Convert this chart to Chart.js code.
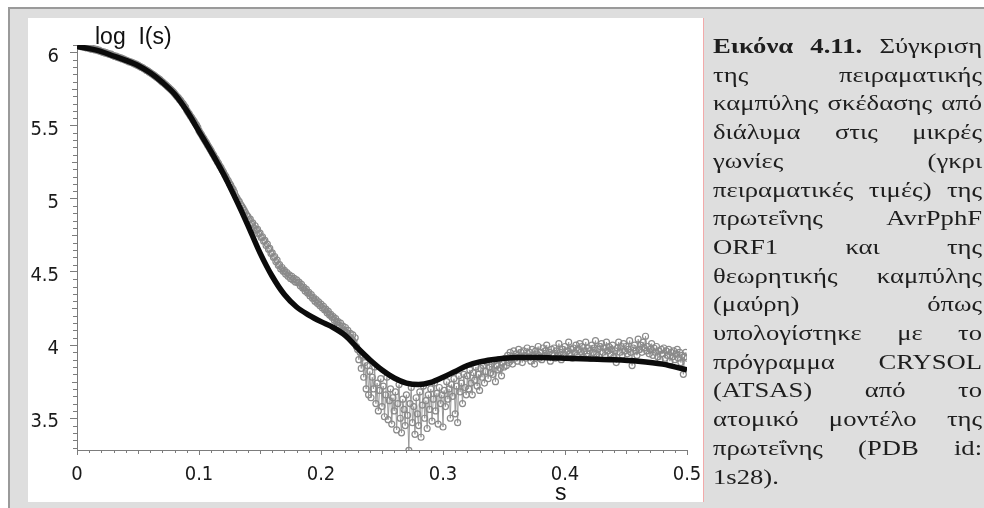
<!DOCTYPE html>
<html>
<head>
<meta charset="utf-8">
<script src="https://cdn.jsdelivr.net/npm/chart.js@4.4.1/dist/chart.umd.min.js"></script>
<style>
  html, body { margin: 0; padding: 0; }
  body { width: 984px; height: 508px; position: relative; overflow: hidden; background: #fff; }
  #frame { position: absolute; left: 8px; top: 7px; right: 0; bottom: 0; background: #dedede;
           border-left: 2px solid #9a9a9a; border-top: 2px solid #9a9a9a; }
  #plotPanel { position: absolute; left: 28px; top: 18px; width: 675px; height: 484px; background: #fff;
               box-shadow: 1px 0 0 #f2aaaa; }
  #chart { position: absolute; left: 0; top: 0; }
  .axis-title { position: absolute; color: #111; font-family: "Liberation Sans", Arial, sans-serif;
                font-size: 23px; line-height: 23px; white-space: pre; }
  #caption { position: absolute; left: 713px; top: 32px; width: 207px; color: #1e1e1e;
             transform: scaleX(1.3); transform-origin: 0 0;
             font-family: "Liberation Serif", "Times New Roman", serif; font-size: 20.5px; line-height: 28.7px; }
  .ln { display: flex; justify-content: space-between; white-space: nowrap; }
  .ln.last { justify-content: flex-start; }
</style>
</head>
<body>
<div id="frame"></div>
<div id="plotPanel"></div>
<canvas id="chart" width="984" height="508"></canvas>
<div class="axis-title" style="left:95px; top:25px;">log  I(s)</div>
<div class="axis-title" style="left:555px; top:481px;">s</div>
<div id="caption">
  <div class="ln"><b>Εικόνα</b><b>4.11.</b><span>Σύγκριση</span></div>
  <div class="ln"><span>της</span><span>πειραματικής</span></div>
  <div class="ln"><span>καμπύλης</span><span>σκέδασης</span><span>από</span></div>
  <div class="ln"><span>διάλυμα</span><span>στις</span><span>μικρές</span></div>
  <div class="ln"><span>γωνίες</span><span>(γκρι</span></div>
  <div class="ln"><span>πειραματικές</span><span>τιμές)</span><span>της</span></div>
  <div class="ln"><span>πρωτεΐνης</span><span>AvrPphF</span></div>
  <div class="ln"><span>ORF1</span><span>και</span><span>της</span></div>
  <div class="ln"><span>θεωρητικής</span><span>καμπύλης</span></div>
  <div class="ln"><span>(μαύρη)</span><span>όπως</span></div>
  <div class="ln"><span>υπολογίστηκε</span><span>με</span><span>το</span></div>
  <div class="ln"><span>πρόγραμμα</span><span>CRYSOL</span></div>
  <div class="ln"><span>(ATSAS)</span><span>από</span><span>το</span></div>
  <div class="ln"><span>ατομικό</span><span>μοντέλο</span><span>της</span></div>
  <div class="ln"><span>πρωτεΐνης</span><span>(PDB</span><span>id:</span></div>
  <div class="ln last"><span>1s28).</span></div>
</div>
<script>
// Theoretical scattering curve computed by CRYSOL (s, log I)
const sTheory = [0, 0.01, 0.02, 0.03, 0.04, 0.05, 0.06, 0.07, 0.08, 0.09,
  0.10, 0.11, 0.12, 0.13, 0.14, 0.15, 0.16, 0.17, 0.18, 0.19,
  0.20, 0.21, 0.22, 0.23, 0.24, 0.25, 0.26, 0.27, 0.28, 0.29,
  0.30, 0.31, 0.32, 0.33, 0.34, 0.35, 0.36, 0.37, 0.38, 0.39,
  0.40, 0.42, 0.44, 0.46, 0.48, 0.50];
const logITheory = [6.04, 6.025, 6.005, 5.975, 5.945, 5.91, 5.86, 5.795, 5.715, 5.60,
  5.46, 5.32, 5.17, 5.00, 4.82, 4.63, 4.47, 4.345, 4.26, 4.205,
  4.16, 4.12, 4.065, 3.98, 3.90, 3.83, 3.775, 3.74, 3.73, 3.745,
  3.78, 3.82, 3.86, 3.885, 3.90, 3.91, 3.915, 3.915, 3.915, 3.912,
  3.91, 3.905, 3.90, 3.89, 3.87, 3.83];

// Measured SAXS curve, one value every 0.001 in s from s = 0 (one row per 0.01)
const sStep = 0.001;
const logIExperimental = [
  6.045, 6.05, 6.04, 6.047, 6.038, 6.042, 6.035, 6.04, 6.03, 6.034,
  6.028, 6.022, 6.03, 6.02, 6.024, 6.016, 6.02, 6.012, 6.015, 6.008,
  6.006, 6.0, 6.003, 5.995, 5.998, 5.99, 5.992, 5.985, 5.987, 5.979,
  5.978, 5.972, 5.974, 5.966, 5.968, 5.96, 5.962, 5.955, 5.956, 5.949,
  5.947, 5.942, 5.94, 5.934, 5.935, 5.928, 5.928, 5.92, 5.921, 5.914,
  5.912, 5.905, 5.902, 5.897, 5.894, 5.886, 5.884, 5.876, 5.874, 5.866,
  5.862, 5.855, 5.85, 5.844, 5.838, 5.831, 5.826, 5.818, 5.813, 5.804,
  5.798, 5.79, 5.783, 5.776, 5.768, 5.761, 5.752, 5.746, 5.737, 5.729,
  5.718, 5.708, 5.698, 5.69, 5.678, 5.67, 5.657, 5.648, 5.634, 5.624,
  5.604, 5.59, 5.579, 5.565, 5.554, 5.54, 5.528, 5.513, 5.502, 5.488,
  5.465, 5.45, 5.438, 5.423, 5.41, 5.395, 5.383, 5.367, 5.355, 5.34,
  5.326, 5.31, 5.298, 5.281, 5.27, 5.253, 5.242, 5.225, 5.213, 5.196,
  5.182, 5.165, 5.152, 5.134, 5.122, 5.104, 5.092, 5.074, 5.062, 5.044,
  5.02, 5.005, 4.99, 4.98, 4.962, 4.95, 4.935, 4.92, 4.905, 4.89,
  4.88, 4.855, 4.86, 4.83, 4.835, 4.80, 4.815, 4.785, 4.79, 4.76,
  4.765, 4.735, 4.74, 4.71, 4.715, 4.68, 4.69, 4.655, 4.66, 4.625,
  4.63, 4.60, 4.605, 4.57, 4.58, 4.545, 4.55, 4.52, 4.53, 4.505,
  4.51, 4.485, 4.495, 4.47, 4.48, 4.455, 4.47, 4.445, 4.455, 4.43,
  4.445, 4.425, 4.43, 4.405, 4.415, 4.39, 4.395, 4.37, 4.38, 4.355,
  4.36, 4.335, 4.345, 4.32, 4.325, 4.30, 4.31, 4.285, 4.295, 4.27,
  4.28, 4.255, 4.265, 4.24, 4.245, 4.22, 4.23, 4.205, 4.21, 4.19,
  4.195, 4.17, 4.18, 4.155, 4.16, 4.135, 4.15, 4.115, 4.13, 4.10,
  4.12, 4.085, 4.10, 4.06, 4.08, 4.04, 4.07, 4.02, 4.05, 3.99,
  3.97, 3.90, 3.95, 3.84, 3.93, 3.78, 3.88, 3.70, 3.86, 3.66,
  3.82, 3.64, 3.78, 3.70, 3.85, 3.60, 3.74, 3.55, 3.69, 3.77,
  3.58, 3.72, 3.51, 3.66, 3.78, 3.49, 3.62, 3.70, 3.46, 3.64,
  3.55, 3.68, 3.42, 3.60, 3.73, 3.50, 3.40, 3.63, 3.56, 3.45,
  3.66, 3.52, 3.28, 3.60, 3.71, 3.47, 3.58, 3.39, 3.64, 3.53,
  3.45, 3.68, 3.37, 3.59, 3.72, 3.50, 3.62, 3.43, 3.66, 3.56,
  3.70, 3.48, 3.63, 3.74, 3.55, 3.67, 3.46, 3.71, 3.60, 3.66,
  3.44, 3.69, 3.58, 3.75, 3.63, 3.70, 3.50, 3.73, 3.65, 3.77,
  3.53, 3.72, 3.47, 3.79, 3.68, 3.74, 3.60, 3.80, 3.71, 3.66,
  3.79, 3.70, 3.83, 3.74, 3.66, 3.81, 3.76, 3.85, 3.72, 3.80,
  3.69, 3.84, 3.78, 3.86, 3.74, 3.82, 3.88, 3.77, 3.85, 3.81,
  3.87, 3.80, 3.89, 3.75, 3.86, 3.83, 3.90, 3.84, 3.79, 3.88,
  3.85, 3.91, 3.86, 3.93, 3.88, 3.95, 3.90, 3.87, 3.96, 3.91,
  3.94, 3.89, 3.97, 3.92, 3.95, 3.88, 3.96, 3.93, 3.91, 3.98,
  3.92, 3.95, 3.89, 3.97, 3.93, 3.87, 3.96, 3.94, 3.99, 3.91,
  3.95, 3.90, 3.98, 3.93, 3.96, 4.00, 3.92, 3.95, 3.89, 3.97,
  3.94, 3.98, 3.91, 3.96, 3.93, 4.01, 3.95, 3.90, 3.97, 3.94,
  3.99, 3.92, 3.96, 4.02, 3.94, 3.97, 3.91, 3.98, 3.95, 4.00,
  3.93, 3.97, 4.01, 3.95, 3.99, 3.92, 3.96, 4.02, 3.94, 3.98,
  3.96, 3.91, 4.00, 3.95, 3.98, 4.03, 3.94, 3.97, 3.92, 3.99,
  4.01, 3.95, 3.98, 3.93, 4.02, 3.96, 3.99, 3.94, 3.97, 4.00,
  3.92, 3.96, 3.88, 3.98, 4.02, 3.95, 3.99, 3.93, 4.01, 3.96,
  3.99, 3.94, 3.97, 4.03, 3.95, 3.86, 3.98, 4.00, 3.96, 3.93,
  4.04, 3.97, 4.00, 3.95, 4.02, 3.98, 4.06, 3.96, 3.99, 3.94,
  3.97, 4.01, 3.93, 3.98, 3.95, 3.99, 3.92, 3.96, 3.90, 3.97,
  3.94, 3.98, 3.91, 3.96, 3.93, 3.97, 3.89, 3.95, 3.92, 3.96,
  3.90, 3.94, 3.97, 3.91, 3.95, 3.88, 3.93, 3.80, 3.92, 3.95,
  3.91
];

// Axis ranges and labelled ticks
const sRange = [0, 0.5];
const logIRange = [3.283, 6.05];
const sTicks = [0, 0.1, 0.2, 0.3, 0.4, 0.5];
const logITicks = [3.5, 4, 4.5, 5, 5.5, 6];

const theoryPoints = sTheory.map((s, i) => ({ x: s, y: logITheory[i] }));
const experimentalPoints = logIExperimental.map((v, i) => ({ x: +(i * sStep).toFixed(3), y: v }));

const axisGrey = '#7c7c7c';
const tickFont = { family: '"Liberation Sans Narrow", "DejaVu Sans Condensed", "Liberation Sans", sans-serif', size: 20 };

// Short unlabelled ticks between the labelled ones (0.01 in s, 0.05 in log I)
const minorTicks = {
  id: 'minorTicks',
  afterDraw(chart) {
    const { ctx, scales: { x, y } } = chart;
    ctx.save();
    ctx.strokeStyle = axisGrey;
    ctx.lineWidth = 1;
    ctx.beginPath();
    for (let k = 1; k < 50; k++) {
      if (k % 10 === 0) continue;
      const px = Math.round(x.getPixelForValue(k / 100)) + 0.5;
      const len = k % 5 === 0 ? 4 : 3;
      ctx.moveTo(px, x.top);
      ctx.lineTo(px, x.top + len);
    }
    for (let k = 66; k <= 121; k++) {
      if (k % 10 === 0) continue;
      const py = Math.round(y.getPixelForValue(k / 20)) + 0.5;
      const len = k % 5 === 0 ? 5 : 4;
      ctx.moveTo(y.right, py);
      ctx.lineTo(y.right - len, py);
    }
    ctx.stroke();
    ctx.restore();
  }
};

function fixedBox(size, horizontal) {
  return function (scale) {
    if (horizontal) scale.height = size; else scale.width = size;
    scale.paddingTop = 0; scale.paddingBottom = 0;
    scale.paddingLeft = 0; scale.paddingRight = 0;
  };
}

new Chart(document.getElementById('chart'), {
  type: 'line',
  data: {
    datasets: [
      {
        label: 'CRYSOL',
        data: theoryPoints,
        borderColor: '#0b0b0b',
        borderWidth: 5.5,
        pointRadius: 0,
        cubicInterpolationMode: 'monotone',
        fill: false
      },
      {
        label: 'experimental',
        data: experimentalPoints,
        borderColor: '#999999',
        borderWidth: 1,
        pointRadius: 3,
        pointBorderWidth: 1.2,
        pointBorderColor: '#8a8a8a',
        pointBackgroundColor: 'rgba(255,255,255,0)',
        tension: 0,
        fill: false
      }
    ]
  },
  options: {
    responsive: false,
    animation: false,
    devicePixelRatio: 1,
    layout: { padding: { left: 0, top: 45, right: 297, bottom: 0 } },
    plugins: { legend: { display: false }, tooltip: { enabled: false } },
    scales: {
      x: {
        type: 'linear',
        min: sRange[0],
        max: sRange[1],
        afterFit: fixedBox(58, true),
        afterBuildTicks(scale) { scale.ticks = sTicks.map(v => ({ value: v })); },
        grid: { drawOnChartArea: false, drawTicks: true, tickLength: 5, color: axisGrey, tickColor: axisGrey },
        border: { display: true, color: axisGrey, width: 1 },
        ticks: { font: tickFont, color: '#1a1a1a', padding: 8, maxRotation: 0, autoSkip: false,
                 callback: v => String(v) }
      },
      y: {
        type: 'linear',
        min: logIRange[0],
        max: logIRange[1],
        afterFit: fixedBox(77, false),
        afterBuildTicks(scale) { scale.ticks = logITicks.map(v => ({ value: v })); },
        grid: { drawOnChartArea: false, drawTicks: true, tickLength: 7, color: axisGrey, tickColor: axisGrey },
        border: { display: true, color: axisGrey, width: 1 },
        ticks: { font: tickFont, color: '#1a1a1a', padding: 11, labelOffset: 4, autoSkip: false,
                 callback: v => String(v) }
      }
    }
  },
  plugins: [minorTicks]
});
</script>
</body>
</html>
